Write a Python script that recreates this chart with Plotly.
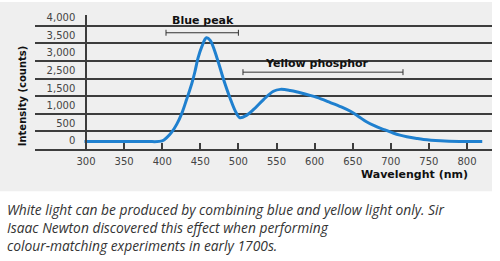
import plotly.graph_objects as go

# ---- data ----
wavelength = [298, 320, 350, 380, 400, 406, 412, 419, 426, 432, 439, 443, 447, 452, 458,
              463, 472, 480, 489, 496, 502, 511, 520, 533, 546, 555, 568, 580, 594, 603,
              620, 635, 647, 658, 668, 679, 690, 703, 712, 721, 734, 743, 765, 790, 820]
intensity = [200, 200, 200, 200, 218, 312, 453, 690, 1020, 1400, 1870, 2200, 2580, 2910, 3164,
             3090, 2580, 2010, 1445, 1070, 880, 955, 1116, 1400, 1635, 1690, 1660, 1600, 1520, 1460,
             1320, 1190, 1065, 910, 765, 645, 550, 445, 385, 340, 290, 262, 225, 205, 200]

x_ticks = [300, 350, 400, 450, 500, 550, 600, 650, 700, 750, 800]
y_ticks = [0, 500, 1000, 1500, 2000, 2500, 3000, 3500]
y_tick_labels = ["0", "500", "1,000", "1,500", "2,500", "3,000", "3,500", "4,000"]

blue_peak_range = [405, 500]
blue_peak_level = 3306
yellow_range = [506, 716]
yellow_level = 2181

caption = ["White light can be produced by combining blue and yellow light only. Sir",
           "Isaac Newton discovered this effect when performing",
           "colour-matching experiments in early 1700s."]

W, H = 500, 261
def py(p):  # pixel y -> paper
    return (H - p) / H

GRID = "#3d3d3d"
BLUE = "#1f80cf"
PANEL = "#efefef"

fig = go.Figure()
fig.add_trace(go.Scatter(x=wavelength, y=intensity, mode="lines",
                         line=dict(color=BLUE, width=3, shape="spline", smoothing=1.0),
                         hoverinfo="skip", showlegend=False))

shapes = [dict(type="rect", xref="paper", yref="paper", x0=0, x1=492 / W, y0=py(190.7), y1=1,
               fillcolor=PANEL, line=dict(width=0), layer="below")]
cap = 85
for rng, lvl in [(blue_peak_range, blue_peak_level), (yellow_range, yellow_level)]:
    shapes.append(dict(type="line", xref="x", yref="y", x0=rng[0], x1=rng[1], y0=lvl, y1=lvl,
                       line=dict(color="#333", width=1)))
    for xe in rng:
        shapes.append(dict(type="line", xref="x", yref="y", x0=xe, x1=xe, y0=lvl - cap, y1=lvl + cap,
                           line=dict(color="#333", width=1)))

bold = dict(family="DejaVu Sans", size=11, color="#111")
annotations = [
    dict(text="<b>Blue peak</b>", x=453.5, y=3646, xref="x", yref="y", showarrow=False, font=bold),
    dict(text="<b>Yellow phosphor</b>", x=603, y=2436, xref="x", yref="y", showarrow=False, font=bold),
    dict(text="<b>Wavelenght (nm)</b>", x=470 / W, y=py(174), xref="paper", yref="paper",
         xanchor="right", yanchor="middle", showarrow=False, font=bold),
    dict(text="<b>Intensity (counts)</b>", x=22 / W, y=py(95), xref="paper", yref="paper",
         textangle=-90, xanchor="center", yanchor="middle", showarrow=False,
         font=dict(family="DejaVu Sans", size=10, color="#111")),
]
for line, yc in zip(caption, [209, 227, 245]):
    annotations.append(dict(text=f"<i>{line}</i>", x=5 / W, y=py(yc), xref="paper", yref="paper",
                            xanchor="left", yanchor="middle", showarrow=False,
                            font=dict(family="Open Sans", size=13.8, color="#333")))

x0_px, x1_px = 35, 492
nm_per_px = 1 / 0.762
fig.update_layout(
    width=W, height=H, margin=dict(l=0, r=0, t=0, b=0),
    paper_bgcolor="white", plot_bgcolor=PANEL,
    shapes=shapes, annotations=annotations,
    xaxis=dict(domain=[x0_px / W, x1_px / W],
               range=[300 - (86 - x0_px) * nm_per_px, 300 + (x1_px - 86) * nm_per_px],
               tickvals=x_ticks, ticks="inside", ticklen=6, tickwidth=1.5, tickcolor=GRID,
               ticklabelstandoff=3,
               showline=True, linecolor=GRID, linewidth=1.5, showgrid=False, zeroline=False,
               tickfont=dict(family="DejaVu Sans", size=10, color="#444")),
    yaxis=dict(domain=[py(147.7), py(13)], range=[0, (147.7 - 13) / 17.65 * 500],
               anchor="free", position=86 / W,
               tickvals=y_ticks, ticktext=y_tick_labels, ticks="", ticklabelshift=-8,
               ticklabelstandoff=8,
               showline=True, linecolor=GRID, linewidth=1.5,
               showgrid=True, gridcolor=GRID, gridwidth=1.5, zeroline=False,
               tickfont=dict(family="DejaVu Sans", size=10, color="#444")),
)

fig.write_html("out.html")
